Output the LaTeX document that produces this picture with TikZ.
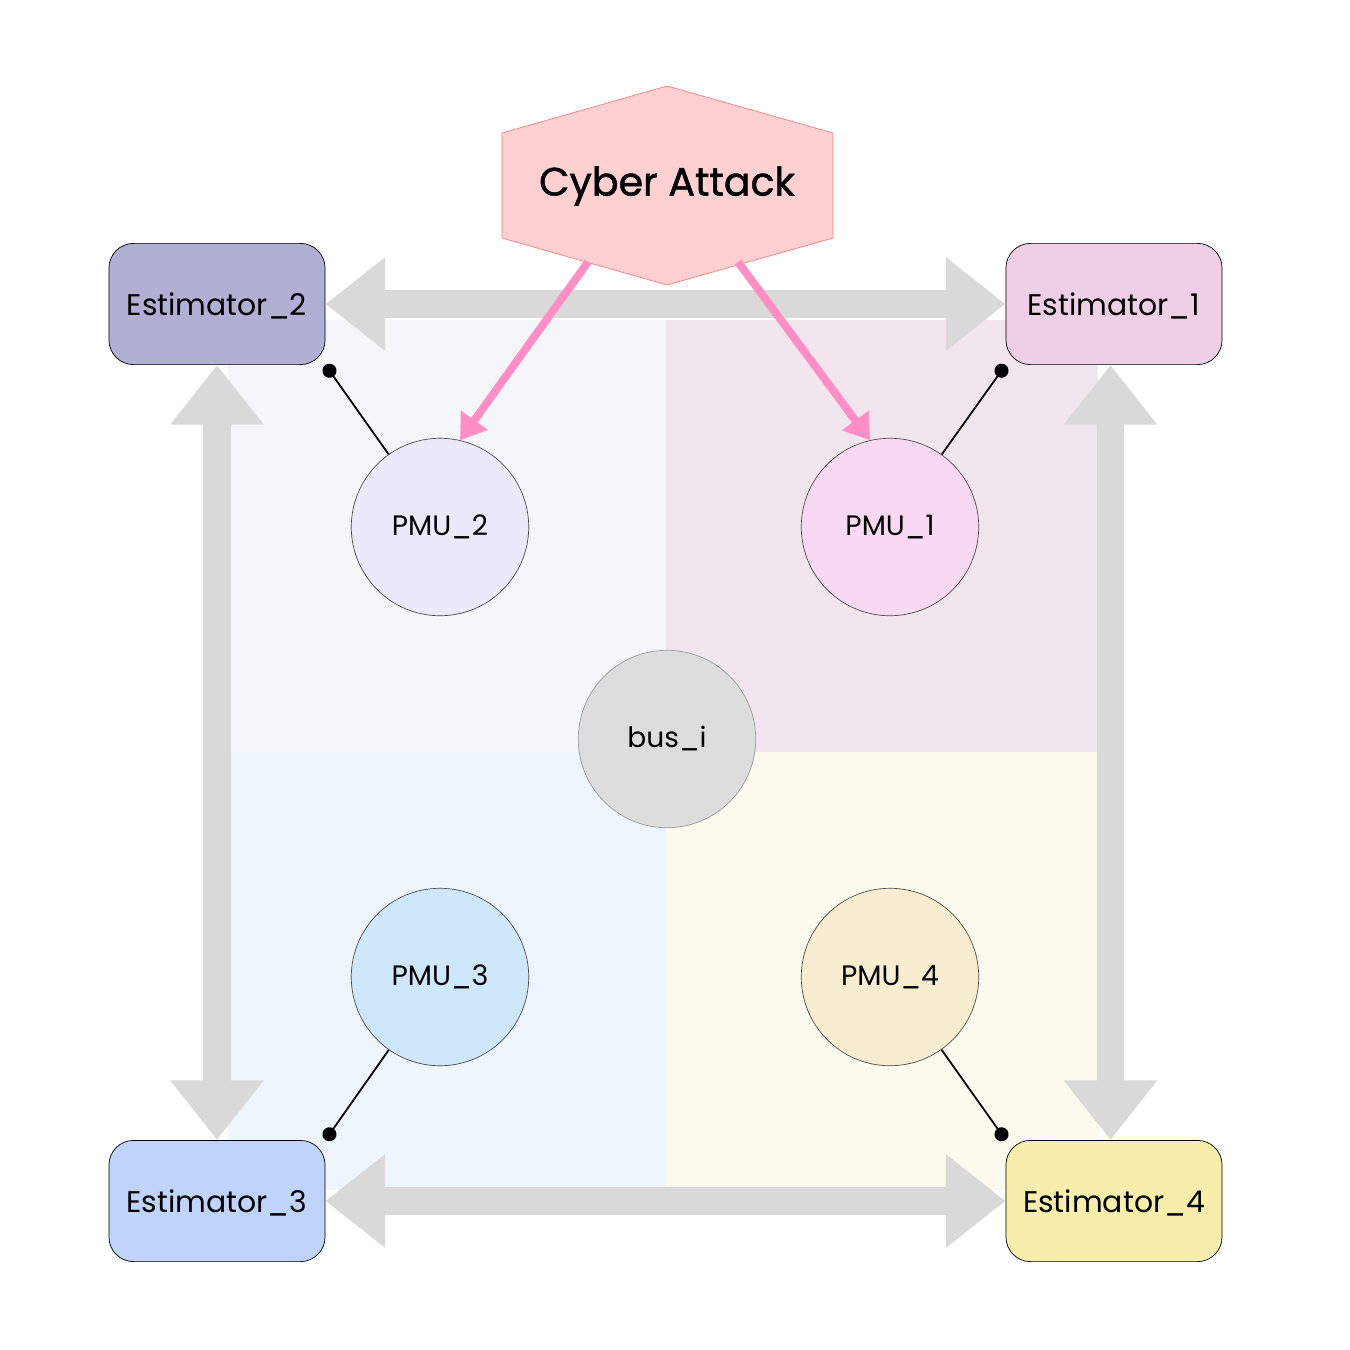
\documentclass[tikz,border=0pt]{standalone}
\usepackage{fontspec}
\setmainfont{Poppins}
\usetikzlibrary{arrows.meta,shapes.geometric}
\definecolor{qa}{HTML}{F5F6FB}\definecolor{qb}{HTML}{F1E6EF}
\definecolor{qc}{HTML}{EFF5FD}\definecolor{qd}{HTML}{FCFAEE}
\definecolor{ea}{HTML}{EFCFE6}\definecolor{eb}{HTML}{B0B0D4}
\definecolor{ec}{HTML}{BFD3FB}\definecolor{ed}{HTML}{F6EEAA}
\definecolor{pa}{HTML}{F9D9F1}\definecolor{pb}{HTML}{EAEAFC}
\definecolor{pc}{HTML}{CFE7FA}\definecolor{pd}{HTML}{F8EDD0}
\definecolor{busc}{HTML}{DDDDDD}\definecolor{hexf}{HTML}{FFD0D2}
\definecolor{hexd}{HTML}{F08080}\definecolor{pink}{HTML}{FF8EC4}
\definecolor{gar}{HTML}{D9D9D9}
\tikzset{
 est/.style={draw=black,rounded corners=14pt,minimum width=123pt,minimum height=69pt,font=\fontsize{17}{20}\selectfont,inner sep=0pt,text depth=-6pt},
 pmu/.style={draw=black!70,circle,minimum size=101pt,font=\fontsize{16}{19}\selectfont,inner sep=0pt},
 gray/.style={draw=gar,line width=15.9pt,{Triangle[length=34pt,width=51pt]}-{Triangle[length=34pt,width=51pt]}},
 atk/.style={draw=pink,line width=4.5pt,-{Triangle[length=14pt,width=18pt]}},
 link/.style={draw=black,line width=1pt,{Circle[length=8pt]}-},
}
\begin{document}
\begin{tikzpicture}[x=0.02cm,y=-0.02cm]
\useasboundingbox (0,0) rectangle (1350,1350);
\fill[white] (0,0) rectangle (1350,1350);
\fill[qa] (228,320) rectangle (666,752);
\fill[qb] (666,320) rectangle (1098,752);
\fill[qc] (228,752) rectangle (666,1190);
\fill[qd] (666,752) rectangle (1098,1190);
\node[est,fill=eb] (e2) at (217,304) {Estimator\_2};
\node[est,fill=ea] (e1) at (1114,304) {Estimator\_1};
\node[est,fill=ec] (e3) at (217,1201) {Estimator\_3};
\node[est,fill=ed] (e4) at (1114,1201) {Estimator\_4};
\draw[gray] (e2.east) -- (e1.west);
\draw[gray] (e3.east) -- (e4.west);
\draw[gray] (e2.south) -- (e3.north);
\draw[gray] ([xshift=-2pt]e1.south) -- ([xshift=-2pt]e4.north);
\node[pmu,fill=pb] (p2) at (440,527) {PMU\_2};
\node[pmu,fill=pa] (p1) at (890,527) {PMU\_1};
\node[pmu,fill=pc] (p3) at (440,977) {PMU\_3};
\node[pmu,fill=pd] (p4) at (890,977) {PMU\_4};
\node[pmu,fill=busc,draw=black!40] (bus) at (667,739) {bus\_i};
\fill[hexf,draw=hexd] (667,86) -- (833,133) -- (833,238) -- (667,285) -- (502,238) -- (502,133) -- cycle;
\node[font=\fontsize{22.5}{26}\selectfont\addfontfeatures{FakeBold=1.2}] (atk) at (667,186) {Cyber Attack};
\draw[atk] (588,262) -- (p2.77);
\draw[atk] (738,262) -- (p1.103);
\draw[link] (e2.south east) -- (p2);
\draw[link] (e1.south west) -- (p1);
\draw[link] (e3.north east) -- (p3);
\draw[link] (e4.north west) -- (p4);
\end{tikzpicture}
\end{document}
